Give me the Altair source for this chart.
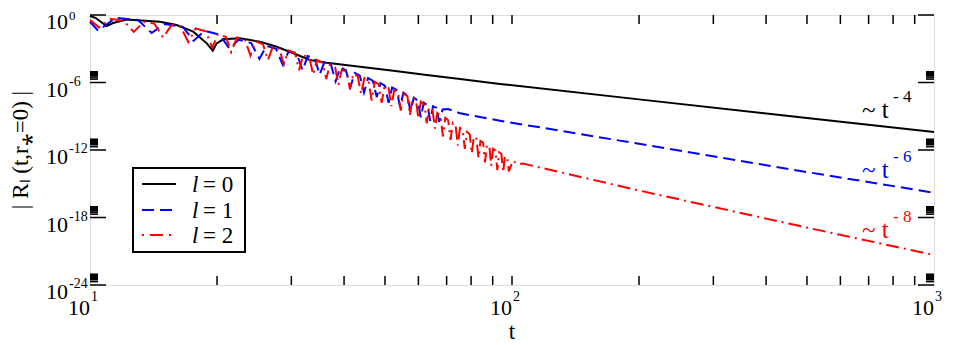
import altair as alt
import pandas as pd

# ---- data (t, log10|R|) ----
t0 = [10.0, 10.3, 10.95, 11.34, 12.22, 14.65, 16.05, 17.57, 18.91, 19.54, 19.96, 20.70, 22.67, 25.28,
      27.70, 30.32, 33.21, 36.38, 43.63, 52.33, 62.80, 75.32, 93.67, 200, 500, 1000]
lr0 = [-0.09, -0.25, -0.98, -0.71, -0.40, -0.60, -0.89, -1.48, -2.52, -3.17, -2.52, -2.16, -2.07, -2.37,
       -2.82, -3.40, -4.0, -4.24, -4.60, -4.96, -5.33, -5.69, -6.13, -7.5, -9.16, -10.4]

t1 = [10.0, 10.45, 11.5, 13.0, 14.0, 15.0, 16.6, 17.6, 18.7, 20.3, 21.4, 22.5, 24.1, 25.2, 26.2, 27.6,
      28.6, 29.6, 30.9, 31.9, 32.8, 34.1, 35.0, 36.0, 37.2, 38.2, 39.2, 40.4, 41.4, 42.4, 43.6, 44.6,
      45.6, 46.8, 47.8, 48.8, 50.0, 51.0, 52.0, 53.3, 54.3, 55.3, 56.5, 57.5, 58.5, 59.8, 60.8, 61.8,
      63.0, 64.0, 65.0, 66.2, 67.2, 68.5, 70.5, 75.3, 93.67, 200, 500, 1000]
lr1 = [-0.6, -1.4, -0.25, -0.45, -1.6, -0.8, -1.05, -2.3, -1.4, -1.75, -3.0, -2.2, -2.5, -3.9, -2.75, -3.0,
       -4.4, -3.2, -3.45, -4.9, -3.65, -3.85, -5.3, -4.1, -4.35, -5.9, -4.65, -4.9, -6.4, -5.15, -5.4, -6.9,
       -5.6, -5.85, -7.3, -6.05, -6.3, -7.8, -6.45, -6.65, -8.2, -6.9, -7.15, -8.6, -7.35, -7.6, -9.1, -7.8,
       -8.0, -9.4, -8.1, -8.25, -9.5, -8.4, -8.35, -8.74, -9.4, -11.45, -13.96, -15.8]

t2 = [10.0, 10.5, 11.2, 12.0, 12.7, 13.4, 14.2, 14.9, 15.6, 16.4, 17.1, 17.8, 18.8, 19.5, 20.1, 21.0,
      21.6, 22.3, 23.3, 24.0, 24.7, 25.7, 26.4, 27.1, 28.1, 28.8, 29.5, 30.6, 31.3, 32.0, 33.1, 33.8,
      34.5, 35.6, 36.3, 37.0, 38.1, 38.8, 39.5, 40.6, 41.3, 42.1, 43.1, 43.9, 44.7, 45.7, 46.5, 47.3,
      48.3, 49.1, 49.9, 51.0, 51.8, 52.6, 53.7, 54.5, 55.3, 56.5, 57.3, 58.1, 59.2, 60.0, 60.8, 62.0,
      62.8, 63.6, 64.8, 65.7, 66.5, 67.7, 68.6, 69.5, 70.6, 71.5, 72.4, 73.5, 74.4, 75.3, 76.4, 77.3,
      78.2, 79.4, 80.3, 81.2, 82.4, 83.3, 84.2, 85.4, 86.3, 87.2, 88.4, 89.3, 90.2, 91.4, 92.3, 93.2,
      94.4, 95.3, 96.2, 97.4, 98.3, 100.5, 103.0, 106.0, 200, 500, 1000]
lr2 = [-0.45, -1.1, -0.35, -0.5, -1.5, -0.62, -0.75, -2.0, -0.9, -1.05, -2.4, -1.2, -1.45, -2.9, -1.7, -1.95,
       -3.3, -2.0, -2.2, -3.6, -2.35, -2.6, -4.0, -2.85, -3.0, -4.4, -3.15, -3.35, -4.9, -3.55, -3.8, -5.3,
       -4.0, -4.25, -5.7, -4.4, -4.65, -6.2, -4.85, -5.05, -6.6, -5.2, -5.45, -7.0, -5.6, -5.8, -7.6, -5.95,
       -6.15, -7.8, -6.3, -6.5, -8.1, -6.65, -6.85, -8.5, -7.0, -7.2, -8.9, -7.35, -7.55, -9.2, -7.7, -7.95,
       -9.6, -8.2, -8.45, -10.1, -8.7, -8.95, -10.8, -9.15, -9.35, -11.1, -9.6, -9.8, -11.6, -10.05, -10.2, -11.9,
       -10.4, -10.6, -12.3, -10.8, -11.0, -12.7, -11.2, -11.35, -13.1, -11.55, -11.7, -13.4, -11.9, -12.05, -13.8, -12.2,
       -12.35, -14.0, -12.55, -12.7, -13.9, -12.95, -13.25, -13.2, -15.6, -18.9, -21.33]

ann_base = ["~ t", "~ t", "~ t"]
ann_exp = ["- 4", "- 6", "- 8"]
ann_t = [675, 675, 675]
ann_lr = [-9.16, -14.49, -19.82]
ann_color = ["black", "#0000ff", "#ff0000"]

leg_text = ["= 0", "= 1", "= 2"]

x_title = "t"
y_title = "| R\u2097 (t,r\u204e=0) |"
x_major = [10, 100, 1000]
x_exp = ["1", "2", "3"]
x_ticks = [20, 30, 40, 50, 60, 70, 80, 90, 100, 200, 300, 400, 500, 600, 700, 800, 900]
y_major = [1e0, 1e-6, 1e-12, 1e-18, 1e-24]
y_exp = ["0", "-6", "-12", "-18", "-24"]
y_minor = [m * 10.0 ** k for k in (-6, -12, -18, -24) for m in range(2, 10)]

FONT = "Liberation Serif"
W, H = 844, 270

xs = alt.Scale(type="log", domain=[10, 1000], nice=False)
ys = alt.Scale(type="log", domain=[1e-24, 1], nice=False)


def X(f="t:Q"):
    return alt.X(f, scale=xs, axis=None)


def Y(f="R:Q"):
    return alt.Y(f, scale=ys, axis=None)


def curve(t, lr):
    return pd.DataFrame({"t": t, "R": [10.0 ** v for v in lr]})


black = alt.Chart(curve(t0, lr0)).mark_line(color="black", strokeWidth=2).encode(x=X(), y=Y())
blue = alt.Chart(curve(t1, lr1)).mark_line(color="#0000ff", strokeWidth=2, strokeDash=[12, 6]).encode(
    x=X(), y=Y())
red = alt.Chart(curve(t2, lr2)).mark_line(color="#ff0000", strokeWidth=2, strokeDash=[13, 5, 2, 5]).encode(
    x=X(), y=Y())

ann_df = pd.DataFrame({"t": ann_t, "R": [10.0 ** v for v in ann_lr], "b": ann_base, "e": ann_exp,
                       "c": ann_color})
ann1 = alt.Chart(ann_df).mark_text(font=FONT, fontSize=25, align="left", baseline="alphabetic").encode(
    x=X(), y=Y(), text="b:N", color=alt.Color("c:N", scale=None))
ann2 = alt.Chart(ann_df).mark_text(font=FONT, fontSize=17, align="left", baseline="alphabetic",
                                   dx=31, dy=-16).encode(
    x=X(), y=Y(), text="e:N", color=alt.Color("c:N", scale=None))

# tick labels (10 with raised exponent)
xl_df = pd.DataFrame({"t": x_major, "e": x_exp})
xl1 = alt.Chart(xl_df).mark_text(font=FONT, fontSize=22, align="right", baseline="alphabetic",
                                 text="10", color="black").encode(x=X(), y=alt.value(H + 30))
xl2 = alt.Chart(xl_df).mark_text(font=FONT, fontSize=14, align="left", baseline="alphabetic",
                                 color="black", dx=1).encode(x=X(), y=alt.value(H + 16), text="e:N")
yl_df = pd.DataFrame({"R": y_major, "e": y_exp})
yl1 = alt.Chart(yl_df).mark_text(font=FONT, fontSize=22, align="right", baseline="alphabetic",
                                 text="10", color="black", dy=14).encode(y=Y(), x=alt.value(-22))
yl2 = alt.Chart(yl_df.iloc[1:]).mark_text(font=FONT, fontSize=14, align="left", baseline="alphabetic",
                                          color="black", dy=3).encode(y=Y(), x=alt.value(-21), text="e:N")
yl2top = alt.Chart(yl_df.iloc[:1]).mark_text(font=FONT, fontSize=13, align="left", baseline="alphabetic",
                                             color="black", dy=5).encode(y=Y(), x=alt.value(-21), text="e:N")

# axis titles
one = pd.DataFrame({"a": [0]})
xtitle = alt.Chart(pd.DataFrame({"t": [100], "s": [x_title]})).mark_text(
    font=FONT, fontSize=23, align="center", baseline="alphabetic", color="black").encode(
    x=X(), y=alt.value(H + 54), text="s:N")
ytitle = alt.Chart(pd.DataFrame({"s": [y_title]})).mark_text(
    font=FONT, fontSize=23, align="center", baseline="middle", angle=270, color="black").encode(
    x=alt.value(-69), y=alt.value(H / 2), text="s:N")

xt = pd.DataFrame({"t": x_ticks})
xb = alt.Chart(xt).mark_rule(color="black", strokeWidth=1.5).encode(
    x=X(), y=alt.value(H), y2=alt.value(H - 9))
xtop = alt.Chart(xt).mark_rule(color="black", strokeWidth=1.5).encode(
    x=X(), y=alt.value(0), y2=alt.value(9))

ymaj = pd.DataFrame({"R": y_major})
ymin = pd.DataFrame({"R": y_minor})
yl = alt.Chart(ymaj).mark_rule(color="black", strokeWidth=1.5).encode(
    y=Y(), x=alt.value(0), x2=alt.value(16))
yr = alt.Chart(ymaj).mark_rule(color="black", strokeWidth=1.5).encode(
    y=Y(), x=alt.value(W), x2=alt.value(W - 16))
yml = alt.Chart(ymin).mark_rule(color="black", strokeWidth=1.6).encode(
    y=Y(), x=alt.value(0), x2=alt.value(8))
ymr = alt.Chart(ymin).mark_rule(color="black", strokeWidth=1.6).encode(
    y=Y(), x=alt.value(W), x2=alt.value(W - 8))

box = alt.Chart(one).mark_rect(fill="white", stroke="black", strokeWidth=2).encode(
    x=alt.value(43), x2=alt.value(155), y=alt.value(153), y2=alt.value(237))

leg_layers = []
styles = [("black", None), ("#0000ff", [12, 6]), ("#ff0000", [2, 6, 13, 6])]
rows = [169, 195, 220]
for (col, dash), yy, lab in zip(styles, rows, leg_text):
    kw = {"strokeDash": dash} if dash else {}
    leg_layers.append(alt.Chart(one).mark_rule(color=col, strokeWidth=2, **kw).encode(
        x=alt.value(52), x2=alt.value(86), y=alt.value(yy)))
    leg_layers.append(alt.Chart(one).mark_text(
        font=FONT, fontSize=23, fontStyle="italic", align="left", baseline="alphabetic", text="l",
        color="black").encode(x=alt.value(102), y=alt.value(yy + 8)))
    leg_layers.append(alt.Chart(one).mark_text(
        font=FONT, fontSize=23, align="left", baseline="alphabetic", text=lab,
        color="black").encode(x=alt.value(113), y=alt.value(yy + 8)))

chart = alt.layer(black, blue, red, ann1, ann2, xl1, xl2, yl1, yl2, yl2top, xtitle, ytitle, xb, xtop,
                  yl, yr, yml, ymr, box, *leg_layers).properties(
    width=W, height=H,
    autosize=alt.AutoSizeParams(type="none"),
    padding={"left": 82, "top": 7, "right": 11, "bottom": 59},
).configure_view(stroke="black", strokeWidth=2).configure(background="white")

chart.save("out.html", embed_options={"renderer": "svg", "actions": False})
